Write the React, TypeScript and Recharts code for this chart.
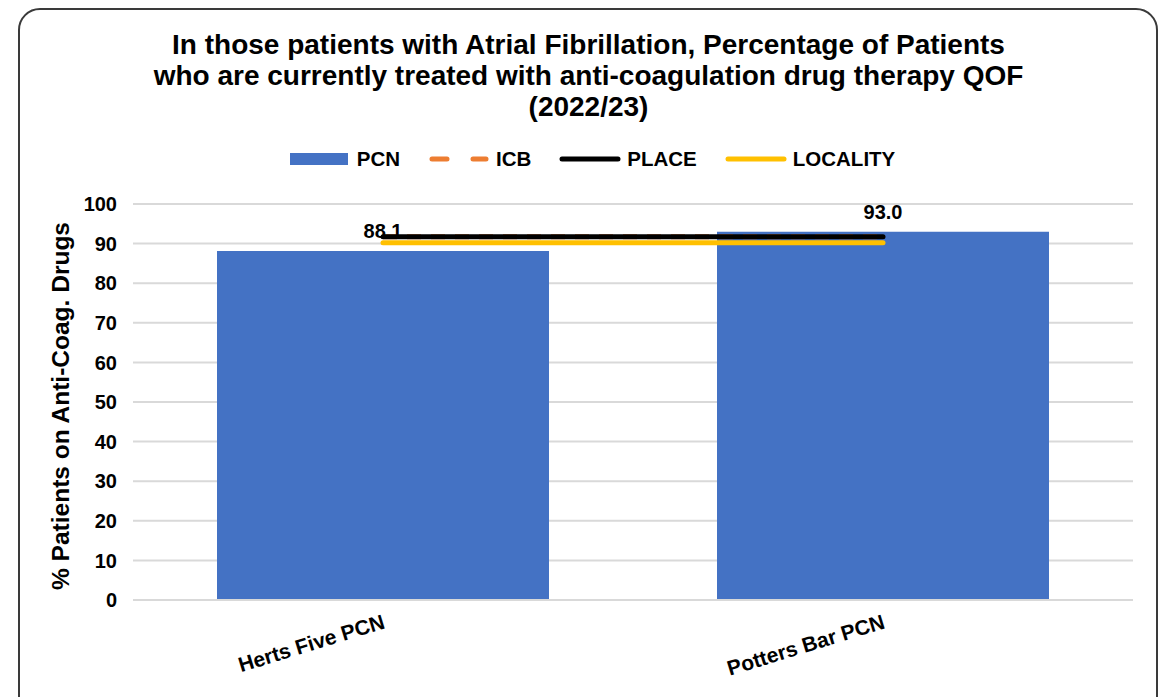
import React from "react";
import { ComposedChart, Bar, Line, XAxis, YAxis, CartesianGrid, LabelList } from "recharts";

const categories = ["Herts Five PCN", "Potters Bar PCN"];
const pcnValues = [88.1, 93.0];
const icbValues = [91.7, 91.7];
const placeValues = [91.7, 91.7];
const localityValues = [90.2, 90.2];
const yTicks = [0, 10, 20, 30, 40, 50, 60, 70, 80, 90, 100];

const data = categories.map((c, i) => ({
  name: c,
  pcn: pcnValues[i],
  icb: icbValues[i],
  place: placeValues[i],
  locality: localityValues[i],
}));

const FONT = "'Liberation Sans', Arial, sans-serif";

const XTick = (props: any) => {
  const { x, y, payload } = props;
  return (
    <g transform={`translate(${x + 3},${y + 20}) rotate(-17)`}>
      <text x={0} y={0} textAnchor="end" fontFamily={FONT} fontWeight="bold" fontSize={21} fill="#000">
        {payload.value}
      </text>
    </g>
  );
};

const legendItems = [
  { label: "PCN", kind: "rect", color: "#4472C4" },
  { label: "ICB", kind: "dash", color: "#ED7D31" },
  { label: "PLACE", kind: "line", color: "#000000" },
  { label: "LOCALITY", kind: "line", color: "#FFC000" },
];

export default function App() {
  return (
    <div style={{ position: "absolute", left: 0, top: 0, width: 1171, height: 697, overflow: "hidden", background: "#fff" }}>
      <div
        style={{
          position: "absolute",
          left: 18,
          top: 8,
          width: 1140,
          height: 720,
          border: "2px solid #3a3a3a",
          borderRadius: 22,
          boxSizing: "border-box",
        }}
      />
      <div
        style={{
          position: "absolute",
          left: 0,
          top: 29,
          width: 1177,
          textAlign: "center",
          fontFamily: FONT,
          fontWeight: "bold",
          fontSize: 28,
          lineHeight: "31px",
          color: "#000",
        }}
      >
        In those patients with Atrial Fibrillation, Percentage of Patients
        <br />
        who are currently treated with anti-coagulation drug therapy QOF
        <br />
        (2022/23)
      </div>
      <div
        style={{
          position: "absolute",
          left: 0,
          top: 147,
          width: 1184,
          display: "flex",
          justifyContent: "center",
          alignItems: "center",
          fontFamily: FONT,
          fontWeight: "bold",
          fontSize: 20.5,
          color: "#000",
          height: 24,
        }}
      >
        {legendItems.map((it, i) => (
          <div key={it.label} style={{ display: "flex", alignItems: "center", marginRight: i === legendItems.length - 1 ? 0 : 28 }}>
            <svg width={62} height={14} style={{ marginRight: 6 }}>
              {it.kind === "rect" && <rect x={1} y={1} width={58} height={12} fill={it.color} />}
              {it.kind === "dash" && (
                <line x1={4} y1={7} x2={58} y2={7} stroke={it.color} strokeWidth={5} strokeLinecap="round" strokeDasharray="15 26" />
              )}
              {it.kind === "line" && (
                <line x1={3} y1={7} x2={59} y2={7} stroke={it.color} strokeWidth={5} strokeLinecap="round" />
              )}
            </svg>
            <span>{it.label}</span>
          </div>
        ))}
      </div>
      <div style={{ position: "absolute", left: 0, top: 0 }}>
        <ComposedChart
          width={1171}
          height={697}
          data={data}
          margin={{ top: 204, right: 38, bottom: 37, left: 0 }}
          barCategoryGap="16.8%"
        >
          <CartesianGrid vertical={false} stroke="#d9d9d9" strokeWidth={2} />
          <XAxis
            dataKey="name"
            height={60}
            tickLine={false}
            axisLine={{ stroke: "#d9d9d9", strokeWidth: 2 }}
            tick={<XTick />}
            interval={0}
          />
          <YAxis
            width={133}
            domain={[0, 100]}
            ticks={yTicks}
            interval={0}
            tickLine={false}
            axisLine={false}
            tickMargin={10}
            tick={{ fontFamily: FONT, fontWeight: "bold", fontSize: 20, fill: "#000" }}
            label={{
              value: "% Patients on Anti-Coag. Drugs",
              angle: -90,
              position: "insideLeft",
              dx: 55,
              dy: 4,
              style: { textAnchor: "middle", fontFamily: FONT, fontWeight: "bold", fontSize: 24.5, fill: "#000" },
            }}
          />
          <Bar dataKey="pcn" fill="#4472C4" isAnimationActive={false}>
            <LabelList
              dataKey="pcn"
              position="top"
              offset={13}
              formatter={(v: any) => Number(v).toFixed(1)}
              style={{ fontFamily: FONT, fontWeight: "bold", fontSize: 20, fill: "#000" }}
            />
          </Bar>
          <Line dataKey="icb" stroke="#ED7D31" strokeWidth={5} strokeDasharray="14 10" dot={false} isAnimationActive={false} />
          <Line dataKey="locality" stroke="#FFC000" strokeWidth={5} strokeLinecap="round" dot={false} isAnimationActive={false} />
          <Line dataKey="place" stroke="#000000" strokeWidth={5} strokeLinecap="round" dot={false} isAnimationActive={false} />
        </ComposedChart>
      </div>
    </div>
  );
}
